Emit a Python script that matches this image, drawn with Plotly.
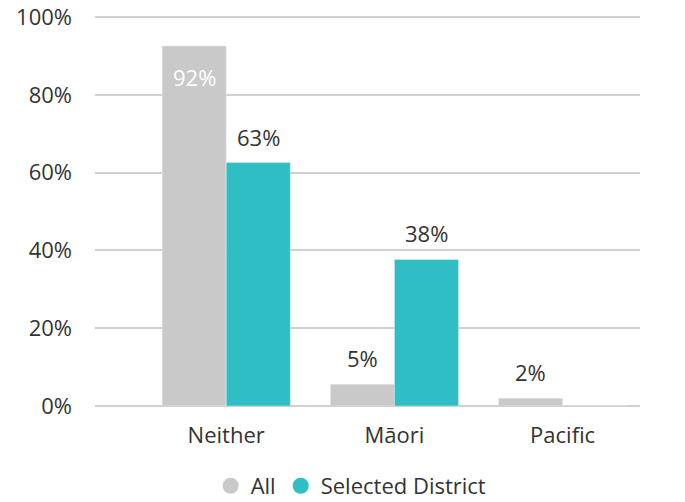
import plotly.graph_objects as go

categories = ['Neither', 'Māori', 'Pacific']
all_values = [0.926, 0.056, 0.020]
district_values = [0.626, 0.377, 0.0]
all_labels = ['92%', '5%', '2%']
district_labels = ['63%', '38%', '']

GREY = '#C9C9C9'
TEAL = '#2EBEC3'
TEXT = '#333333'
FONT = 'Open Sans'
SIZE = 22

fig = go.Figure()
fig.add_trace(go.Bar(x=categories, y=all_values, name='All', marker_color=GREY, showlegend=False))
fig.add_trace(go.Bar(x=categories, y=district_values, name='Selected District', marker_color=TEAL, showlegend=False))

# circle legend markers
fig.add_trace(go.Scatter(x=[None], y=[None], mode='markers', name='All',
                         marker=dict(color=GREY, size=20, symbol='circle')))
fig.add_trace(go.Scatter(x=[None], y=[None], mode='markers', name='Selected District',
                         marker=dict(color=TEAL, size=20, symbol='circle')))

# value labels
for cat, v, lab in zip(categories, all_values, all_labels):
    if not lab:
        continue
    inside = v > 0.8
    fig.add_annotation(x=cat, y=v, text=lab, showarrow=False, xshift=-32,
                       yanchor='top' if inside else 'bottom',
                       yshift=-14 if inside else 9,
                       font=dict(color='white' if inside else TEXT, size=SIZE, family=FONT))
for cat, v, lab in zip(categories, district_values, district_labels):
    if not lab:
        continue
    fig.add_annotation(x=cat, y=v, text=lab, showarrow=False, xshift=32,
                       yanchor='bottom', yshift=9,
                       font=dict(color=TEXT, size=SIZE, family=FONT))

fig.update_layout(
    width=685, height=502,
    margin=dict(l=95, r=45, t=16, b=96, autoexpand=False),
    barmode='group', bargap=0.238, bargroupgap=0,
    plot_bgcolor='white', paper_bgcolor='white',
    font=dict(family=FONT, size=SIZE, color=TEXT),
    legend=dict(orientation='h', x=0.47, xanchor='center', y=-0.205, yanchor='middle',
                font=dict(size=SIZE, color=TEXT), itemwidth=30, traceorder='normal'),
)
fig.update_xaxes(range=[-0.78, 2.46], showgrid=False, showline=False, ticks='',
                 ticklabelstandoff=14, tickfont=dict(size=SIZE, color=TEXT))
fig.update_yaxes(range=[0, 1.003], dtick=0.2, tickformat='.0%', showgrid=True,
                 gridcolor='#D0D0D0', gridwidth=2, zeroline=True, zerolinecolor='#D0D0D0',
                 zerolinewidth=2, ticks='', ticklabelstandoff=22,
                 tickfont=dict(size=SIZE, color=TEXT))

# drop the default 8px page margin so the figure fills the window
fig.write_html('out.html', config={'displayModeBar': False},
               post_script="document.body.style.margin='0';")
